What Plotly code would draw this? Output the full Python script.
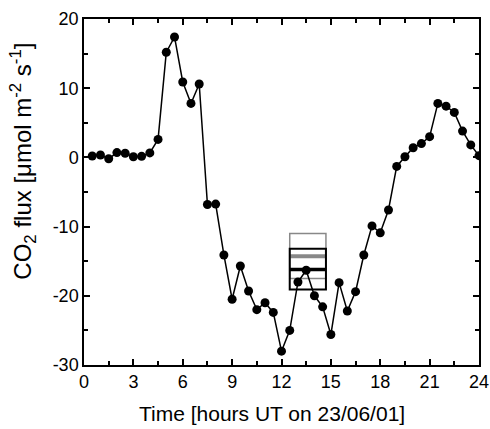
import plotly.graph_objects as go

hours = [0.5, 1.0, 1.5, 2.0, 2.5, 3.0, 3.5, 4.0, 4.5, 5.0, 5.5, 6.0, 6.5, 7.0,
         7.5, 8.0, 8.5, 9.0, 9.5, 10.0, 10.5, 11.0, 11.5, 12.0, 12.5, 13.0,
         13.5, 14.0, 14.5, 15.0, 15.5, 16.0, 16.5, 17.0, 17.5, 18.0, 18.5,
         19.0, 19.5, 20.0, 20.5, 21.0, 21.5, 22.0, 22.5, 23.0, 23.5, 24.0]
flux = [0.2, 0.35, -0.2, 0.7, 0.6, 0.1, 0.15, 0.65, 2.6, 15.2, 17.4, 10.9, 7.8, 10.6,
        -6.8, -6.75, -14.1, -20.5, -15.7, -19.3, -22.0, -21.0, -22.4, -28.0, -25.0, -18.0,
        -16.3, -20.0, -21.6, -25.6, -18.1, -22.2, -19.4, -14.1, -9.9, -10.9, -7.6,
        -1.3, 0.1, 1.4, 2.0, 3.0, 7.8, 7.4, 6.5, 3.8, 1.8, 0.25]

# Reference boxes: [x0, x1, low, high, median]
box_gray = [12.5, 14.7, -17.5, -11.0, -14.3]
box_black = [12.5, 14.7, -19.1, -13.2, -16.2]

xtick_vals = [0, 3, 6, 9, 12, 15, 18, 21, 24]
ytick_vals = [-30, -20, -10, 0, 10, 20]
ytick_text = ["-30", "-20", "-10", "0", "10", "20"]

x_title = "Time [hours UT on 23/06/01]"
y_title = "CO<sub>2</sub> flux [μmol m<sup>-2</sup> s<sup>-1</sup>]"

FONT = "Liberation Sans, Arial, sans-serif"

fig = go.Figure()
fig.add_trace(go.Scatter(
    x=hours, y=flux, mode="lines+markers",
    line=dict(color="black", width=1.5),
    marker=dict(color="black", size=9),
    showlegend=False,
))

def add_box(b, color, lw, mw):
    x0, x1, lo, hi, med = b
    fig.add_shape(type="rect", xref="x", yref="y", x0=x0, x1=x1, y0=lo, y1=hi,
                  line=dict(color=color, width=lw), layer="below")
    fig.add_shape(type="line", xref="x", yref="y", x0=x0, x1=x1, y0=med, y1=med,
                  line=dict(color=color, width=mw), layer="below")

add_box(box_gray, "#888888", 1.5, 4)
add_box(box_black, "black", 2, 3.5)

axis_common = dict(
    showline=True, linecolor="black", linewidth=1.5, mirror="ticks",
    ticks="inside", ticklen=6, tickwidth=1.5, tickcolor="black",
    showgrid=False, zeroline=False, automargin=False,
    tickfont=dict(family=FONT, size=18, color="black"),
)

fig.update_xaxes(
    range=[0, 24], tickvals=xtick_vals,
    minor=dict(dtick=1.5, ticks="inside", ticklen=4, tickwidth=1.5, tickcolor="black"),
    **axis_common,
)
fig.update_yaxes(
    range=[-30, 20], tickvals=ytick_vals, ticktext=ytick_text,
    minor=dict(dtick=5, ticks="inside", ticklen=4, tickwidth=1.5, tickcolor="black"),
    **axis_common,
)

fig.add_annotation(text=x_title, xref="paper", yref="paper", x=0.4747, y=-0.1416,
                   xanchor="center", yanchor="middle", showarrow=False,
                   font=dict(family=FONT, size=21, color="black"))
fig.add_annotation(text=y_title, xref="paper", yref="paper", x=-0.155, y=0.59,
                   xanchor="center", yanchor="middle", textangle=-90, showarrow=False,
                   font=dict(family=FONT, size=24, color="black"))

fig.update_layout(
    width=490, height=429,
    margin=dict(l=84, r=11, t=19, b=64),
    plot_bgcolor="white", paper_bgcolor="white",
)

fig.write_html("out.html")
